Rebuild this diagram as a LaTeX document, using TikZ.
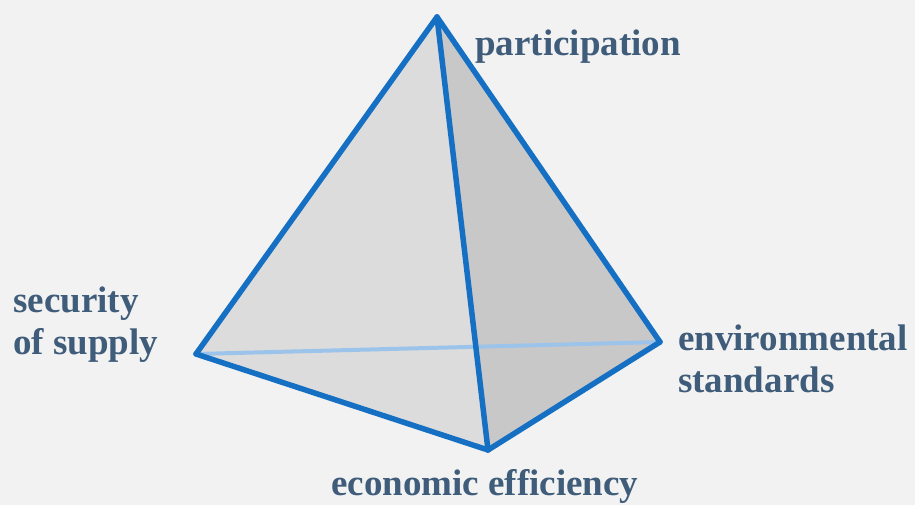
\documentclass[tikz,border=0pt]{standalone}
\usepackage{fontspec}
\setmainfont{Liberation Serif}
\definecolor{bg}{HTML}{F2F2F2}
\definecolor{edgeblue}{HTML}{1570C4}
\definecolor{hiddenblue}{HTML}{9CC4EA}
\definecolor{faceA}{HTML}{DCDCDC}
\definecolor{faceB}{HTML}{C8C8C8}
\definecolor{labelcol}{HTML}{3F5C7A}
\begin{document}
\begin{tikzpicture}[x=1pt,y=-1pt,
  edge/.style={draw=edgeblue,line width=5.5pt,line cap=round,line join=round},
  hidden/.style={draw=hiddenblue,line width=4pt,line cap=round},
  lbl/.style={inner sep=0pt,text=labelcol,font=\fontsize{37}{42}\selectfont\bfseries,align=left}]
\fill[bg] (0,0) rectangle (915,505);
\useasboundingbox (0,0) rectangle (915,505);
\coordinate (T) at (437,17);
\coordinate (L) at (196,354);
\coordinate (R) at (660,342);
\coordinate (B) at (488,450);
% faces
\fill[faceB] (T) -- (B) -- (R) -- cycle;
\fill[faceA] (T) -- (L) -- (B) -- cycle;
% hidden edge
\draw[hidden] (L) -- (R);
% visible edges
\draw[edge] (T) -- (L);
\draw[edge] (T) -- (B);
\draw[edge] (T) -- (R);
\draw[edge] (L) -- (B);
\draw[edge] (B) -- (R);
% labels
\node[lbl,anchor=base west] (part) at (475,56) {participation};
\node[lbl,anchor=base west] (sec) at (13,354) {security\\of supply};
\node[lbl,anchor=base west] (env) at (678,392) {environmental\\standards};
\node[lbl,anchor=base west] (eco) at (331,495) {economic efficiency};
\end{tikzpicture}
\end{document}
